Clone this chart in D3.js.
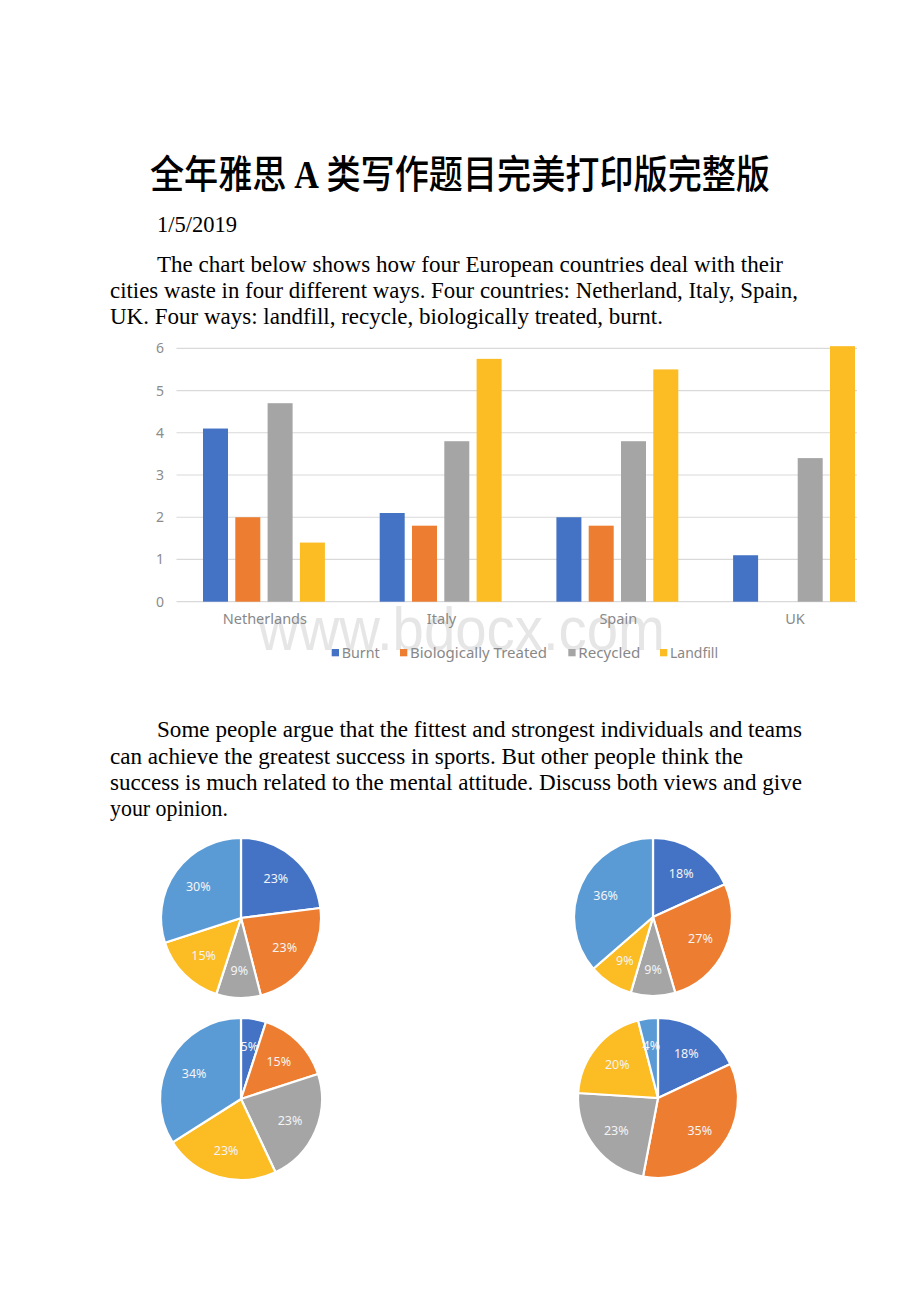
<!DOCTYPE html>
<html>
<head>
<meta charset="utf-8">
<script src="https://cdn.jsdelivr.net/npm/d3@7"></script>
<style>
  html, body { margin: 0; padding: 0; background: #ffffff; }
  svg { display: block; }
</style>
</head>
<body>
<div id="chart"></div>
<script>
// ---------- data ----------
const countries = ["Netherlands", "Italy", "Spain", "UK"];
const methods = ["Burnt", "Biologically Treated", "Recycled", "Landfill"];
const burnt = [4.1, 2.1, 2.0, 1.1];
const bioTreated = [2.0, 1.8, 1.8, 0];
const recycled = [4.7, 3.8, 3.8, 3.4];
const landfill = [1.4, 5.75, 5.5, 6.05];
const yTicks = [0, 1, 2, 3, 4, 5, 6];

const pieSlices = ["A", "B", "C", "D", "E"];
const pieTopLeft = [23, 23, 9, 15, 30];
const pieTopRight = [18, 27, 9, 9, 36];
const pieBottomLeft = [5, 15, 23, 23, 34];
const pieBottomRight = [18, 35, 23, 20, 4];

const titleText = ["全年雅思 ", "A", " 类写作题目完美打印版完整版"];
const dateText = "1/5/2019";
const para1 = [
  "The chart below shows how four European countries deal with their",
  "cities waste in four different ways. Four countries: Netherland, Italy, Spain,",
  "UK. Four ways: landfill, recycle, biologically treated, burnt."
];
const para2 = [
  "Some people argue that the fittest and strongest individuals and teams",
  "can achieve the greatest success in sports. But other people think the",
  "success is much related to the mental attitude. Discuss both views and give",
  "your opinion."
];

// ---------- setup ----------
const W = 920, H = 1302;
const svg = d3.select("#chart").append("svg").attr("width", W).attr("height", H);
svg.append("rect").attr("width", W).attr("height", H).attr("fill", "#fff");

const serif = "'Liberation Serif', 'Times New Roman', serif";
const cjk = "'Noto Sans CJK SC', sans-serif";
const chartFont = "'Noto Sans', 'Open Sans', sans-serif";

// title
const title = svg.append("text")
  .attr("x", 460).attr("y", 188)
  .attr("text-anchor", "middle")
  .attr("font-size", 39)
  .attr("fill", "#000")
  .attr("textLength", 620).attr("lengthAdjust", "spacingAndGlyphs");
title.append("tspan").attr("font-family", cjk).attr("font-weight", 500).text(titleText[0]);
title.append("tspan").attr("font-family", serif).attr("font-weight", "bold").text(titleText[1]);
title.append("tspan").attr("font-family", cjk).attr("font-weight", 500).text(titleText[2]);

// date
svg.append("text").attr("x", 157).attr("y", 232)
  .attr("font-family", serif).attr("font-size", 23).attr("fill", "#000")
  .attr("textLength", 80).attr("lengthAdjust", "spacingAndGlyphs")
  .text(dateText);

function paragraph(lines, xs, ys, widths) {
  lines.forEach((t, i) => {
    svg.append("text").attr("x", xs[i]).attr("y", ys[i])
      .attr("font-family", serif).attr("font-size", 23).attr("fill", "#000")
      .attr("textLength", widths[i]).attr("lengthAdjust", "spacingAndGlyphs")
      .text(t);
  });
}
paragraph(para1, [157, 110, 110], [272, 298, 324], [626, 688, 553]);
paragraph(para2, [157, 110, 110, 110], [737, 764, 790, 816], [645, 633, 692, 118]);

// ---------- bar chart ----------
const colors = ["#4472C4", "#ED7D31", "#A5A5A5", "#FBBC24"];
const seriesVals = [burnt, bioTreated, recycled, landfill];

const defs = svg.append("defs");
defs.append("clipPath").attr("id", "barclip")
  .append("rect").attr("x", 130).attr("y", 330).attr("width", 727).attr("height", 340);

// watermark (behind chart texts)
svg.append("text").attr("x", 258).attr("y", 650)
  .attr("font-family", "'Liberation Sans', Arial, sans-serif").attr("font-size", 62)
  .attr("fill", "#dcdcdc").attr("opacity", 0.7)
  .attr("textLength", 407).attr("lengthAdjust", "spacingAndGlyphs")
  .text("www.bdocx.com");

const chart = svg.append("g").attr("clip-path", "url(#barclip)");

const y = d3.scaleLinear().domain([0, 6]).range([601.7, 348.3]);
const x0 = d3.scaleBand().domain(countries).range([176.5, 883.3]);
const x1 = d3.scaleBand().domain(methods).range([26.5, 148.4]).paddingInner(0.226);

// gridlines
chart.append("g").selectAll("line").data(yTicks).join("line")
  .attr("x1", 176.5).attr("x2", 857)
  .attr("y1", d => y(d)).attr("y2", d => y(d))
  .attr("stroke", "#d9d9d9").attr("stroke-width", 1.2);

// y axis labels
const yAxis = d3.axisLeft(y).tickValues(yTicks).tickFormat(d3.format("d")).tickSize(0).tickPadding(0);
const yg = chart.append("g").attr("transform", "translate(164,0)").call(yAxis);
yg.select(".domain").remove();
yg.selectAll("text").attr("font-family", chartFont).attr("font-size", 14)
  .attr("fill", "#8c8c8c");

// bars
const groups = chart.selectAll("g.country").data(countries).join("g")
  .attr("class", "country")
  .attr("transform", d => `translate(${x0(d)},0)`);
groups.selectAll("rect").data((c, ci) => methods.map((m, mi) => ({ m, mi, v: seriesVals[mi][ci] })))
  .join("rect")
  .attr("x", d => x1(d.m))
  .attr("width", x1.bandwidth())
  .attr("y", d => y(d.v))
  .attr("height", d => y(0) - y(d.v))
  .attr("fill", d => colors[d.mi]);

// x axis labels
const xAxis = d3.axisBottom(x0).tickSize(0).tickPadding(0);
const xg = chart.append("g").attr("transform", "translate(0,614)").call(xAxis);
xg.select(".domain").remove();
xg.selectAll("text").attr("font-family", chartFont).attr("font-size", 14.5)
  .attr("fill", "#888").attr("dy", "0.71em");

// legend
const legendX = [331.7, 400, 568.3, 660];
const legendW = [38, 137, 62, 48];
const leg = chart.append("g");
methods.forEach((m, i) => {
  leg.append("rect").attr("x", legendX[i]).attr("y", 649).attr("width", 7.3).attr("height", 7.3)
    .attr("fill", colors[i]);
  leg.append("text").attr("x", legendX[i] + 10).attr("y", 658.3)
    .attr("font-family", chartFont).attr("font-size", 14.5).attr("fill", "#888")
    .attr("textLength", legendW[i]).attr("lengthAdjust", "spacingAndGlyphs")
    .text(m);
});

// ---------- pies ----------
const pieColors = d3.scaleOrdinal().domain(pieSlices)
  .range(["#4472C4", "#ED7D31", "#A5A5A5", "#FBBC24", "#5B9BD5"]);
const pies = [
  { vals: pieTopLeft, cx: 241, cy: 918, r: 80 },
  { vals: pieTopRight, cx: 653, cy: 917, r: 79 },
  { vals: pieBottomLeft, cx: 241, cy: 1099, r: 81 },
  { vals: pieBottomRight, cx: 658, cy: 1098, r: 80 }
];
const pieGen = d3.pie().sort(null).value(d => d.v);
pies.forEach(p => {
  const data = pieGen(p.vals.map((v, i) => ({ v, k: pieSlices[i] })));
  const arc = d3.arc().innerRadius(0).outerRadius(p.r);
  const labelArc = d3.arc().innerRadius(p.r * 0.66).outerRadius(p.r * 0.66);
  const g = svg.append("g").attr("transform", `translate(${p.cx},${p.cy})`);
  g.selectAll("path").data(data).join("path")
    .attr("d", arc)
    .attr("fill", d => pieColors(d.data.k))
    .attr("stroke", "#fff").attr("stroke-width", 2.2).attr("stroke-linejoin", "round");
  g.selectAll("text").data(data).join("text")
    .attr("transform", d => `translate(${labelArc.centroid(d)})`)
    .attr("text-anchor", "middle").attr("dy", "0.35em")
    .attr("font-family", chartFont).attr("font-size", 12.5)
    .attr("fill", "#f4f4f4")
    .text(d => d.data.v + "%");
});
</script>
</body>
</html>
